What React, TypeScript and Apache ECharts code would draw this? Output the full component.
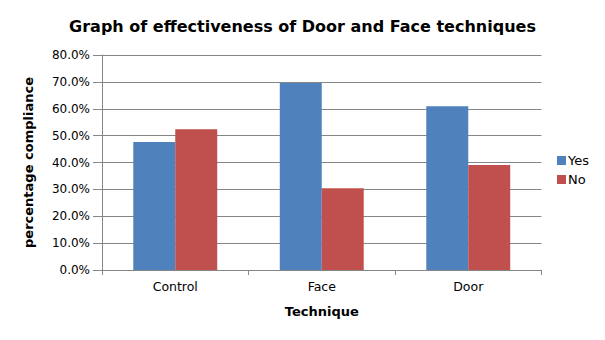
import React, { useEffect, useRef } from "react";
import * as echarts from "echarts";

const categories = ["Control", "Face", "Door"];
const yesValues = [0.476, 0.696, 0.609];
const noValues = [0.524, 0.304, 0.391];
const seriesNames = ["Yes", "No"];

export default function App() {
  const ref = useRef<HTMLDivElement>(null);
  useEffect(() => {
    const chart = echarts.init(ref.current!, null, { renderer: "svg" });
    const font = "DejaVu Sans";
    chart.setOption({
      animation: false,
      backgroundColor: "#ffffff",
      title: {
        text: "Graph of effectiveness of Door and Face techniques",
        left: "center",
        top: 18,
        padding: 0,
        textStyle: { fontFamily: font, fontWeight: "bold", fontSize: 16, color: "#000" },
      },
      legend: {
        orient: "vertical",
        left: 557,
        top: 154,
        padding: 0,
        itemWidth: 9,
        itemHeight: 9,
        itemGap: 6,
        icon: "rect",
        textStyle: { fontFamily: font, fontSize: 13, color: "#000", padding: [0, 0, 0, -3] },
        data: seriesNames,
      },
      grid: { left: 102, right: 63.5, top: 55, bottom: 70, containLabel: false },
      xAxis: {
        type: "category",
        data: categories,
        name: "Technique",
        nameLocation: "middle",
        nameGap: 35,
        nameTextStyle: { fontFamily: font, fontWeight: "bold", fontSize: 13, color: "#000" },
        axisLine: { lineStyle: { color: "#868686" } },
        axisTick: { show: true, length: 5, lineStyle: { color: "#868686" } },
        axisLabel: { fontFamily: font, fontSize: 12.5, color: "#000", margin: 10 },
      },
      yAxis: {
        type: "value",
        min: 0,
        max: 0.8,
        interval: 0.1,
        name: "percentage compliance",
        nameLocation: "middle",
        nameGap: 67,
        nameTextStyle: { fontFamily: font, fontWeight: "bold", fontSize: 13, color: "#000" },
        axisLine: { show: true, lineStyle: { color: "#868686" } },
        axisTick: { show: true, length: 9, lineStyle: { color: "#868686" } },
        axisLabel: {
          fontFamily: font,
          fontSize: 12,
          color: "#000",
          margin: 12,
          formatter: (v: number) => (v * 100).toFixed(1) + "%",
        },
        splitLine: { lineStyle: { color: "#868686" } },
      },
      series: [
        {
          name: seriesNames[0],
          type: "bar",
          data: yesValues,
          itemStyle: { color: "#4f81bd" },
          barGap: "0%",
          barCategoryGap: "42.7%",
        },
        {
          name: seriesNames[1],
          type: "bar",
          data: noValues,
          itemStyle: { color: "#c0504d" },
          barGap: "0%",
          barCategoryGap: "42.7%",
        },
      ],
    });
    return () => chart.dispose();
  }, []);
  return <div ref={ref} style={{ width: 605, height: 340, position: "absolute", left: 0, top: 0 }} />;
}
